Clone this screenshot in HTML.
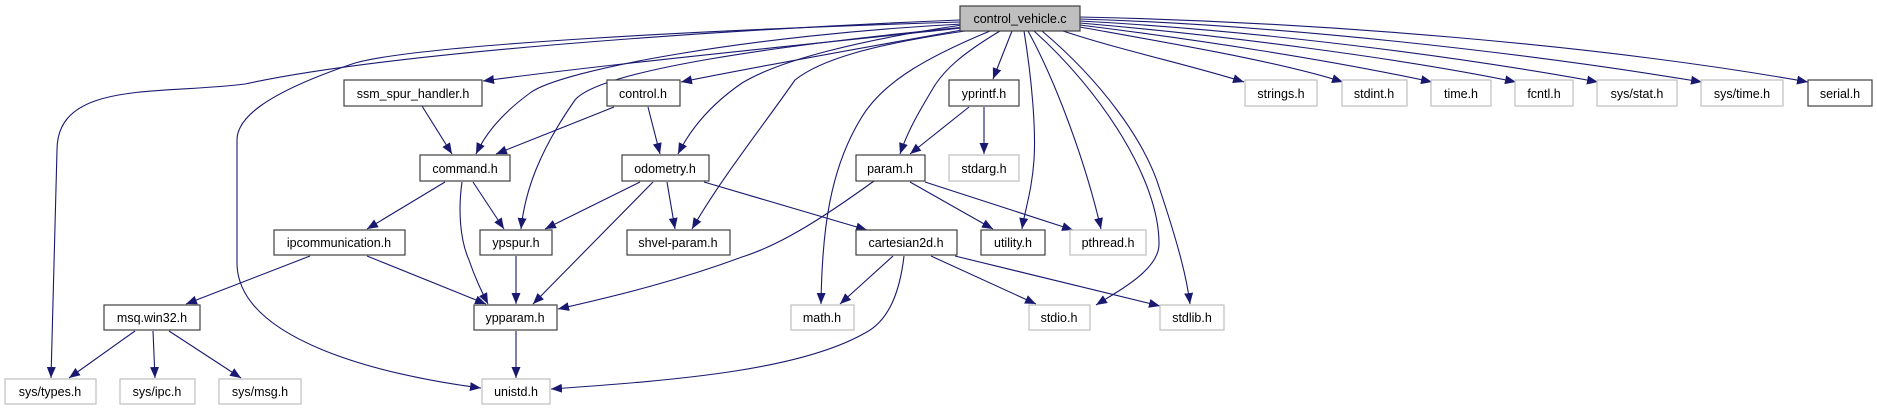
<!DOCTYPE html>
<html><head><meta charset="utf-8"><style>
html,body{margin:0;padding:0;background:#fff}
svg{display:block}
text{font-family:"Liberation Sans",Helvetica,Arial,sans-serif;font-size:12.5px;fill:#000;text-anchor:middle}
.d{fill:#fff;stroke:#404040;stroke-width:1.2}
.g{fill:#fff;stroke:#bfbfbf;stroke-width:1.2}
path.e{fill:none;stroke:#191970;stroke-width:1.1}
</style></head><body>
<svg width="1877" height="411" viewBox="0 0 1877 411" xmlns="http://www.w3.org/2000/svg">
<defs><marker id="a" markerUnits="userSpaceOnUse" markerWidth="12" markerHeight="10" refX="11" refY="4.5" orient="auto"><path d="M0,0 L11,4.5 L0,9 z" fill="#191970"/></marker></defs>
<g marker-end="url(#a)">
<path class="e" d="M960,20 C760,28 400,50 245,84 C160,95 57,80 57,150 L51,378"/>
<path class="e" d="M960,22 C700,30 420,45 355,63 C260,95 237,120 237,140 L237,265 C240,340 380,375 481,388"/>
<path class="e" d="M962,28 C800,45 600,65 483,81"/>
<path class="e" d="M962,24 C750,35 560,70 530,93 C500,115 485,135 476,154"/>
<path class="e" d="M965,27 C780,45 600,70 575,100 C540,150 525,190 521,229"/>
<path class="e" d="M962,30 C850,50 750,68 681,82"/>
<path class="e" d="M962,25 C860,40 780,60 742,83 C710,105 690,130 678,154"/>
<path class="e" d="M965,31 C870,45 820,60 795,80 C760,130 720,180 692,229"/>
<path class="e" d="M990,31 C920,60 880,85 860,120 C830,170 822,230 821,304"/>
<path class="e" d="M1000,31 C960,55 945,70 935,85 C920,110 908,130 900,154"/>
<path class="e" d="M1012,31 L993,79"/>
<path class="e" d="M1024,31 C1032,80 1036,130 1034,160 C1032,190 1025,210 1022,229"/>
<path class="e" d="M1028,31 C1055,80 1085,160 1101,229"/>
<path class="e" d="M1034,31 C1100,90 1160,180 1159,245 C1158,270 1120,290 1096,305"/>
<path class="e" d="M1042,31 C1100,80 1145,140 1160,190 C1180,250 1187,280 1190,304"/>
<path class="e" d="M1063,31 C1120,50 1190,65 1244,82"/>
<path class="e" d="M1080,27 C1180,45 1280,62 1343,82"/>
<path class="e" d="M1080,25 C1200,40 1330,60 1432,82"/>
<path class="e" d="M1080,23 C1220,35 1400,58 1516,82"/>
<path class="e" d="M1080,21 C1250,30 1450,55 1598,82"/>
<path class="e" d="M1080,19 C1280,25 1520,52 1702,82"/>
<path class="e" d="M1080,17 C1320,22 1600,45 1808,82"/>
<path class="e" d="M422,106 L452,154"/>
<path class="e" d="M614,107 L496,154"/>
<path class="e" d="M648,107 L660,154"/>
<path class="e" d="M445,182 L367,229"/>
<path class="e" d="M462,182 C458,210 460,240 469,260 C475,278 482,292 488,304"/>
<path class="e" d="M473,182 L504,229"/>
<path class="e" d="M640,182 L545,229"/>
<path class="e" d="M653,182 L533,304"/>
<path class="e" d="M667,182 L675,229"/>
<path class="e" d="M704,182 L867,230"/>
<path class="e" d="M310,256 L186,304"/>
<path class="e" d="M367,256 L486,304"/>
<path class="e" d="M516,256 L516,304"/>
<path class="e" d="M874,181 C820,220 780,245 742,257 C680,280 620,295 558,309"/>
<path class="e" d="M910,182 L993,229"/>
<path class="e" d="M925,182 L1073,230"/>
<path class="e" d="M969,107 L910,154"/>
<path class="e" d="M984,107 L984,154"/>
<path class="e" d="M135,331 L69,378"/>
<path class="e" d="M153,331 L155,378"/>
<path class="e" d="M169,331 L241,378"/>
<path class="e" d="M516,331 L516,378"/>
<path class="e" d="M893,256 L840,304"/>
<path class="e" d="M904,256 C900,290 890,320 865,333 C800,370 680,380 551,389"/>
<path class="e" d="M931,256 L1036,304"/>
<path class="e" d="M955,256 L1160,306"/>
</g>
<rect x="960" y="6" width="120" height="25" fill="#bfbfbf" stroke="#404040" stroke-width="1.2"/><text x="1020" y="23">control_vehicle.c</text>
<rect class="d" x="344" y="80" width="138" height="26"/><text x="413" y="98">ssm_spur_handler.h</text>
<rect class="d" x="607" y="80" width="73" height="26"/><text x="643" y="98">control.h</text>
<rect class="d" x="949" y="80" width="70" height="26"/><text x="984" y="98">yprintf.h</text>
<rect class="g" x="1245" y="80" width="72" height="26"/><text x="1281" y="98">strings.h</text>
<rect class="g" x="1342" y="80" width="65" height="26"/><text x="1374" y="98">stdint.h</text>
<rect class="g" x="1431" y="80" width="60" height="26"/><text x="1461" y="98">time.h</text>
<rect class="g" x="1515" y="80" width="58" height="26"/><text x="1544" y="98">fcntl.h</text>
<rect class="g" x="1597" y="80" width="80" height="26"/><text x="1637" y="98">sys/stat.h</text>
<rect class="g" x="1701" y="80" width="82" height="26"/><text x="1742" y="98">sys/time.h</text>
<rect class="d" x="1808" y="80" width="64" height="26"/><text x="1840" y="98">serial.h</text>
<rect class="d" x="420" y="155" width="90" height="26"/><text x="465" y="173">command.h</text>
<rect class="d" x="622" y="155" width="87" height="26"/><text x="665" y="173">odometry.h</text>
<rect class="d" x="856" y="155" width="69" height="26"/><text x="890" y="173">param.h</text>
<rect class="g" x="949" y="155" width="70" height="26"/><text x="984" y="173">stdarg.h</text>
<rect class="d" x="274" y="230" width="131" height="25"/><text x="339" y="247">ipcommunication.h</text>
<rect class="d" x="480" y="230" width="72" height="25"/><text x="516" y="247">ypspur.h</text>
<rect class="d" x="627" y="230" width="103" height="25"/><text x="678" y="247">shvel-param.h</text>
<rect class="d" x="856" y="230" width="101" height="25"/><text x="906" y="247">cartesian2d.h</text>
<rect class="d" x="981" y="230" width="64" height="25"/><text x="1013" y="247">utility.h</text>
<rect class="g" x="1070" y="230" width="76" height="25"/><text x="1108" y="247">pthread.h</text>
<rect class="d" x="104" y="305" width="96" height="25"/><text x="152" y="322">msq.win32.h</text>
<rect class="d" x="474" y="305" width="83" height="25"/><text x="515" y="322">ypparam.h</text>
<rect class="g" x="791" y="305" width="63" height="25"/><text x="822" y="322">math.h</text>
<rect class="g" x="1029" y="305" width="61" height="25"/><text x="1059" y="322">stdio.h</text>
<rect class="g" x="1160" y="305" width="64" height="25"/><text x="1192" y="322">stdlib.h</text>
<rect class="g" x="5" y="379" width="91" height="25"/><text x="50" y="396">sys/types.h</text>
<rect class="g" x="120" y="379" width="75" height="25"/><text x="157" y="396">sys/ipc.h</text>
<rect class="g" x="219" y="379" width="82" height="25"/><text x="260" y="396">sys/msg.h</text>
<rect class="g" x="482" y="379" width="68" height="25"/><text x="516" y="396">unistd.h</text>
</svg>
</body></html>
